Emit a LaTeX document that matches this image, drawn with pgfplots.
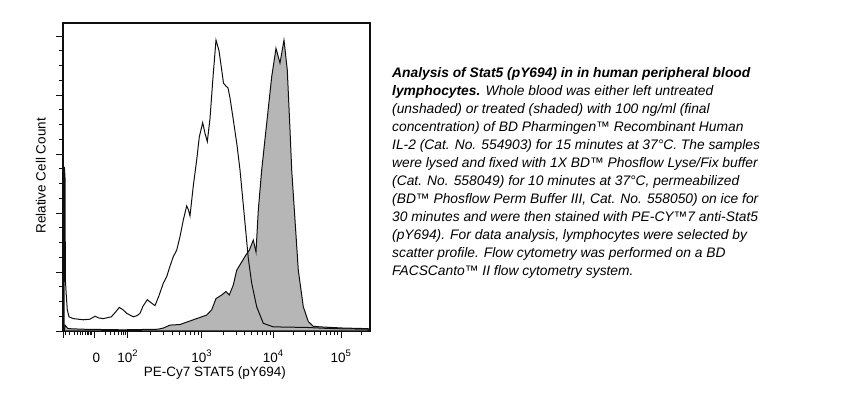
\documentclass[border=0pt]{standalone}
\usepackage{pgfplots}
\pgfplotsset{compat=1.18}
\usepackage{fontspec}
\setmainfont{Liberation Sans}
\definecolor{shade}{RGB}{182,182,182}
\definecolor{ink}{RGB}{15,15,15}
\newcommand{\lblfont}{\fontsize{13.5}{16}\selectfont}
\begin{document}
\begin{tikzpicture}
\useasboundingbox (0,0) rectangle (843pt,396pt);
\begin{axis}[
  at={(63pt,65pt)}, anchor=south west,
  scale only axis, width=307pt, height=308pt,
  xmin=0, xmax=307, ymin=0, ymax=5.22,
  axis line style={ink, line width=1.1pt},
  tick align=outside, xtick pos=lower, ytick pos=left,
  major tick length=7pt, minor tick length=4pt,
  every tick/.style={ink, line width=0.8pt},
  xtick={0.7,31.3,64.7,138.7,210.3,278},
  xticklabels={,\hspace*{4.4pt}0,10\textsuperscript{2},10\textsuperscript{3},10\textsuperscript{4},10\textsuperscript{5}},
  minor xtick={2,6,11,14.7,17,19.7,22,24,25.3,27,28.7,42,47,51.3,55.3,58,60.3,62.3,87,100,109.3,116.4,122.3,127.2,131.5,135.3,160.3,172.9,181.8,188.7,194.4,199.2,203.4,207,230.7,242.6,251.1,257.6,263,267.5,271.4,274.6,298.4},
  ytick={0,1,2,3,4,5}, yticklabels={}, minor y tick num=3,
  xticklabel style={font=\lblfont, anchor=base, yshift=-24pt},
  xlabel={PE-Cy7 STAT5 (pY694)}, ylabel={Relative Cell Count},
  xlabel style={font=\lblfont, at={(axis description cs:0.495,-0.149)}, anchor=base},
  ylabel style={font=\lblfont, at={(axis description cs:-0.0723,0.504)}, anchor=center},
]
% treated (shaded)
\addplot[fill=shade, draw=ink, line width=1pt] coordinates {
(1.5,0) (2,0.10) (5,0.04) (20,0.03) (60,0.02) (95,0.03) (100.3,0.05) (107,0.10) (117,0.11)
(130.3,0.19) (143.7,0.27) (148.7,0.36) (153,0.55) (158.7,0.61) (163,0.67) (166.3,0.61)
(170.3,0.78) (173.7,1.03) (178.7,1.17) (183,1.29) (186.3,1.37) (190.3,1.54) (193,1.34)
(195.3,2.05) (198.7,2.73) (203.7,3.52) (208.7,4.31) (213,4.79) (217,4.54) (221,4.93)
(224.3,4.42) (227,3.41) (228.7,2.73) (232,1.88) (235.3,1.03) (240.3,0.41) (245.3,0.16)
(250.3,0.08) (257,0.07) (280,0.05) (305,0.04) (305,0)
} \closedcycle;
% untreated (unshaded)
\addplot[draw=ink, line width=1pt] coordinates {
(1.0,0.03) (1.4,2.78) (2.0,2.6) (2.4,0.86) (3.3,0.6) (4.3,0.36) (6,0.24) (10.3,0.21)
(20.3,0.19) (27,0.2) (32,0.25) (36,0.22) (40.3,0.21) (48.3,0.24) (53,0.33) (56.3,0.40)
(60,0.36) (63.7,0.30) (70.3,0.24) (74,0.26) (77,0.30) (80,0.42) (84.3,0.53) (88,0.48)
(92,0.43) (96,0.6) (100.3,0.81) (103.7,0.92) (107,1.1) (110.3,1.26) (113.7,1.37) (117,1.6)
(120.3,1.88) (123.7,2.12) (125.5,2.05) (127,1.95) (130.3,2.46) (133.7,2.9) (136.3,3.29)
(139.7,3.53) (142,3.35) (144.3,3.21) (147,3.6) (150,4.3) (153,4.93) (156,4.75) (158.5,4.45)
(160.5,4.2) (163,4.15) (165,4.12) (167,3.95) (170.3,3.58) (174,3.15) (177,2.73) (182,1.83)
(185.3,1.23) (188.7,0.81) (193.7,0.41) (200.3,0.13) (210.3,0.07) (243.7,0.06) (270,0.04) (306,0.03)
};
\end{axis}
\node[anchor=north west, align=left, inner sep=0pt,
      font=\fontsize{13.8}{18}\selectfont\itshape] at (392pt,328.7pt) {%
\textbf{Analysis of Stat5 (pY694) in in human peripheral blood}\\
\textbf{lymphocytes.} Whole blood was either left untreated\\
(unshaded) or treated (shaded) with 100 ng/ml (final\\
concentration) of BD Pharmingen™ Recombinant Human\\
IL-2 (Cat. No. 554903) for 15 minutes at 37°C. The samples\\
were lysed and fixed with 1X BD™ Phosflow Lyse/Fix buffer\\
(Cat. No. 558049) for 10 minutes at 37°C, permeabilized\\
(BD™ Phosflow Perm Buffer III, Cat. No. 558050) on ice for\\
30 minutes and were then stained with PE-CY™7 anti-Stat5\\
(pY694). For data analysis, lymphocytes were selected by\\
scatter profile. Flow cytometry was performed on a BD\\
FACSCanto™ II flow cytometry system.};
\end{tikzpicture}
\end{document}
